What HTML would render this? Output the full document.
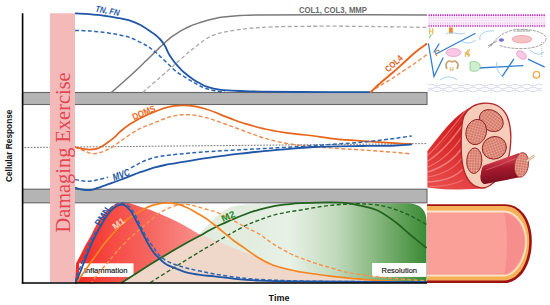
<!DOCTYPE html>
<html><head><meta charset="utf-8">
<style>
html,body{margin:0;padding:0;background:#fff;width:550px;height:305px;overflow:hidden}
svg{display:block}
text{font-family:"Liberation Sans",sans-serif}
</style></head><body>
<svg width="550" height="305" viewBox="0 0 550 305">
<defs>
  <linearGradient id="gGreen" x1="121" y1="0" x2="427" y2="0" gradientUnits="userSpaceOnUse">
    <stop offset="0" stop-color="#e3ebdc"/>
    <stop offset="0.42" stop-color="#e2ede0"/>
    <stop offset="0.55" stop-color="#e7f1e6"/>
    <stop offset="0.7" stop-color="#c2dabd"/>
    <stop offset="0.85" stop-color="#7fb377"/>
    <stop offset="1" stop-color="#3a8a35"/>
  </linearGradient>
  <linearGradient id="gRed" x1="75" y1="0" x2="198" y2="0" gradientUnits="userSpaceOnUse">
    <stop offset="0" stop-color="#f42822"/>
    <stop offset="0.3" stop-color="#f54b44"/>
    <stop offset="0.6" stop-color="#f6655f"/>
    <stop offset="1" stop-color="#f98e8a"/>
  </linearGradient>
</defs>

<!-- bottom panel fills -->
<path d="M121.6,282.8 L198.8,235 C202,231 206,226.5 207.7,225.4 C211,222 214,219 216.6,216.5 C219,214 221.5,212 224.3,210.2 C227,208.5 230,207 233.2,206.4 C238,205.3 241,204.8 245.9,204.5 C252,204 258,203.8 265,203.6 L408,203.3 C419,203.5 426.5,209 426.5,221 L426.5,282.8 Z" fill="url(#gGreen)"/>
<path d="M121.6,282.8 C126.3,279.8 141.1,270.2 150.0,264.6 C158.9,259.1 168.3,253.4 175.0,249.5 C181.7,245.6 185.6,243.4 190.0,241.0 C194.4,238.6 199.5,236.0 201.4,235.0 L257,257.4 L258.5,257.8 C260.9,259.0 267.4,263.0 272.7,265.0 C277.9,267.0 285.3,268.6 290.0,269.8 C294.7,271.0 296.8,271.3 301.0,272.0 C305.2,272.7 310.2,273.3 315.0,274.0 C319.8,274.7 324.0,275.5 330.0,276.2 C336.0,276.9 343.0,277.6 351.0,278.3 C359.0,279.0 365.3,279.9 378.0,280.5 C390.7,281.1 418.8,281.8 427.0,282.0 L427,282.9 Z" fill="#efd7c9"/>
<path d="M75,283 L76.0,263.5 C76.8,262.1 79.1,257.8 80.5,255.0 C81.9,252.2 83.2,249.5 84.5,247.0 C85.8,244.5 87.3,242.1 88.5,240.0 C89.7,237.9 90.3,236.8 91.5,234.5 C92.7,232.2 94.1,229.1 95.5,226.5 C96.9,223.9 98.3,221.4 100.0,219.0 C101.7,216.6 103.4,214.4 105.5,212.2 C107.6,210.0 110.1,207.6 112.6,206.0 C115.1,204.4 118.1,203.2 120.5,202.6 C122.9,202.0 124.6,202.0 127.0,202.4 C129.4,202.8 132.0,204.0 135.0,205.0 C138.0,206.0 142.0,207.3 145.0,208.3 C148.0,209.3 149.5,209.6 153.0,211.0 C156.5,212.4 161.6,214.6 166.0,216.6 C170.4,218.6 174.9,220.5 179.3,222.8 C183.7,225.1 190.2,229.0 192.4,230.2 C195,232 197.5,232.5 197.5,233.5 L201.4,235.0 C199.5,236.0 194.4,238.6 190.0,241.0 C185.6,243.4 181.7,245.6 175.0,249.5 C168.3,253.4 158.9,259.1 150.0,264.6 C141.1,270.2 126.3,279.8 121.6,282.8 Z" fill="url(#gRed)"/>

<!-- bands -->
<rect x="22.5" y="92.5" width="404.5" height="12" fill="#b4b4b4" stroke="#666" stroke-width="1.1"/>
<rect x="22.5" y="189.2" width="404.5" height="13.6" fill="#b4b4b4" stroke="#666" stroke-width="1.1"/>

<!-- top panel lines -->
<path d="M111.3,92.5 C113.6,90.5 120.5,84.5 125.0,80.5 C129.5,76.5 134.9,71.5 138.4,68.2 C141.9,64.9 143.7,63.0 146.0,60.8 C148.3,58.6 150.1,56.9 152.0,55.0 C153.9,53.1 155.6,51.5 157.5,49.7 C159.4,47.9 161.1,46.0 163.3,44.0 C165.5,42.0 168.2,39.4 170.5,37.6 C172.8,35.8 174.8,34.7 177.0,33.3 C179.2,31.9 181.8,30.4 184.0,29.2 C186.2,28.0 187.5,27.4 190.0,26.3 C192.5,25.2 196.2,23.9 199.0,22.9 C201.8,21.9 204.0,21.1 206.7,20.4 C209.4,19.7 212.3,19.1 215.1,18.5 C217.9,17.9 219.3,17.6 223.5,17.1 C227.7,16.6 233.9,16.0 240.0,15.6 C246.1,15.2 245.0,15.0 260.0,14.9 C275.0,14.8 302.2,14.8 330.0,14.8 C357.8,14.8 410.8,15.0 427.0,15.0" fill="none" stroke="#7a7a7a" stroke-width="1.5"/>
<path d="M142.7,92.4 C145.2,90.2 152.4,84.0 158.0,79.2 C163.6,74.4 171.0,67.8 176.0,63.4 C181.0,59.0 185.0,55.4 188.0,52.8 C191.0,50.2 192.0,49.6 194.0,48.0 C196.0,46.4 197.9,45.0 200.0,43.4 C202.1,41.8 204.2,40.0 206.7,38.5 C209.2,37.0 212.3,35.6 215.1,34.6 C217.9,33.6 219.3,33.1 223.5,32.2 C227.7,31.4 233.9,30.3 240.0,29.5 C246.1,28.7 251.7,28.0 260.0,27.5 C268.3,27.0 278.3,26.7 290.0,26.5 C301.7,26.3 315.0,26.2 330.0,26.2 C345.0,26.2 363.8,26.4 380.0,26.6 C396.2,26.8 419.2,27.3 427.0,27.4" fill="none" stroke="#a9a9a9" stroke-width="1.3" stroke-dasharray="4,2.4"/>
<path d="M75.0,30.4 C77.3,30.5 84.3,30.6 89.0,30.9 C93.7,31.2 98.3,31.7 103.0,32.3 C107.7,32.9 112.5,33.6 117.0,34.5 C121.5,35.4 126.2,36.2 130.0,37.5 C133.8,38.8 137.2,40.8 140.0,42.2 C142.8,43.6 145.0,44.6 147.0,45.8 C149.0,47.0 150.2,48.1 152.0,49.5 C153.8,50.9 156.0,52.6 158.0,54.4 C160.0,56.1 162.0,58.1 164.0,60.0 C166.0,61.9 168.0,63.9 170.0,65.8 C172.0,67.7 174.0,69.8 176.0,71.4 C178.0,73.0 180.0,74.0 182.0,75.3 C184.0,76.6 186.0,77.8 188.0,79.0 C190.0,80.2 192.0,81.4 194.0,82.6 C196.0,83.8 197.9,85.0 200.0,86.0 C202.1,87.0 204.2,87.9 206.7,88.7 C209.2,89.5 212.0,90.2 215.1,90.8 C218.2,91.3 223.3,91.8 225.0,92.0" fill="none" stroke="#2d66b4" stroke-width="1.5" stroke-dasharray="4,2.4"/>
<path d="M75.0,13.3 C77.3,13.5 84.3,13.8 89.0,14.2 C93.7,14.6 98.3,15.0 103.0,15.6 C107.7,16.2 112.4,16.9 117.0,17.8 C121.6,18.7 126.7,19.6 130.7,20.8 C134.7,22.0 138.1,23.7 141.0,25.2 C143.9,26.7 145.7,28.2 148.0,29.8 C150.3,31.4 152.9,33.0 154.9,34.5 C156.9,36.0 158.4,37.6 159.8,39.0 C161.2,40.4 162.2,41.8 163.1,43.0 C164.0,44.2 164.5,44.9 165.2,46.2 C165.9,47.5 166.5,49.1 167.2,50.6 C167.9,52.1 168.6,53.6 169.6,55.2 C170.6,56.9 172.0,58.8 173.2,60.5 C174.4,62.2 175.7,63.7 177.0,65.2 C178.3,66.7 179.6,68.0 180.8,69.3 C182.1,70.6 183.2,71.7 184.5,72.8 C185.8,73.9 187.1,74.9 188.5,76.0 C189.9,77.1 191.2,78.1 193.0,79.2 C194.8,80.3 196.7,81.5 199.0,82.8 C201.3,84.0 204.0,85.7 206.7,86.7 C209.4,87.7 212.3,88.3 215.1,88.9 C217.9,89.5 219.3,89.8 223.5,90.1 C227.7,90.4 233.9,90.8 240.0,91.0 C246.1,91.2 250.0,91.4 260.0,91.6 C270.0,91.8 281.7,91.9 300.0,92.0 C318.3,92.1 358.3,92.2 370.0,92.2" fill="none" stroke="#1f56a6" stroke-width="1.8"/>
<path d="M370.0,92.3 C371.9,91.0 377.9,87.1 381.6,84.8 C385.3,82.5 388.3,80.9 392.0,78.5 C395.7,76.1 400.2,73.0 404.0,70.5 C407.8,68.0 411.2,65.9 415.0,63.2 C418.8,60.5 425.0,56.0 427.0,54.5" fill="none" stroke="#f0884a" stroke-width="1.4" stroke-dasharray="4,2.4"/>
<path d="M370.5,92.3 C371.9,91.0 375.4,87.5 379.0,84.3 C382.6,81.1 388.1,76.6 392.3,73.0 C396.5,69.4 400.2,65.9 404.0,62.5 C407.8,59.1 411.2,55.7 415.0,52.5 C418.8,49.3 425.0,45.0 427.0,43.5" fill="none" stroke="#e8641a" stroke-width="1.9"/>

<!-- middle panel lines -->
<path d="M24.5,147.5 L427,143.6" stroke="#7a7a7a" stroke-width="1" stroke-dasharray="1.8,1.3" fill="none"/>
<path d="M75.0,147.0 C75.8,147.4 78.3,148.6 79.9,149.3 C81.5,150.0 83.2,150.5 84.8,151.1 C86.4,151.7 88.0,152.7 89.7,153.1 C91.4,153.5 93.1,153.7 94.7,153.6 C96.3,153.5 98.0,153.0 99.6,152.6 C101.2,152.2 102.9,151.8 104.5,151.1 C106.1,150.4 107.7,149.7 109.4,148.7 C111.2,147.7 112.8,146.7 115.0,145.2 C117.2,143.7 119.5,141.8 122.8,139.5 C126.1,137.2 131.2,133.7 134.6,131.6 C138.0,129.5 140.3,128.4 143.0,127.2 C145.7,126.0 147.7,125.5 150.5,124.4 C153.3,123.3 156.9,121.7 159.7,120.6 C162.5,119.5 164.6,118.5 167.1,117.7 C169.6,116.9 172.0,116.4 174.5,115.9 C177.0,115.4 179.5,115.0 181.9,114.8 C184.3,114.6 186.8,114.6 189.2,114.7 C191.6,114.8 194.0,115.0 196.6,115.5 C199.2,116.0 201.9,116.6 205.0,117.4 C208.1,118.2 210.9,119.0 215.0,120.4 C219.1,121.8 224.6,123.8 229.5,125.6 C234.4,127.4 239.6,129.3 244.2,131.0 C248.8,132.7 252.7,134.2 257.0,135.7 C261.3,137.2 265.4,138.6 270.0,139.8 C274.6,141.0 279.6,142.1 284.5,143.0 C289.4,143.9 294.4,144.7 299.3,145.3 C304.2,145.9 308.9,146.3 314.0,146.7 C319.1,147.1 324.7,147.5 330.0,147.9 C335.3,148.3 340.6,148.7 346.0,149.0 C351.4,149.3 357.2,149.6 362.7,150.0 C368.2,150.4 373.5,150.8 379.0,151.2 C384.5,151.6 390.0,151.9 395.5,152.4 C401.0,152.9 409.1,153.7 411.8,153.9" fill="none" stroke="#f0884a" stroke-width="1.4" stroke-dasharray="4,2.4"/>
<path d="M75.0,147.0 C75.8,147.2 78.3,147.8 79.9,148.2 C81.5,148.6 83.2,149.0 84.8,149.2 C86.4,149.4 88.0,149.6 89.7,149.6 C91.4,149.6 93.1,149.5 94.7,149.2 C96.3,148.9 98.0,148.4 99.6,147.7 C101.2,146.9 102.9,145.8 104.5,144.7 C106.1,143.6 107.7,142.6 109.4,141.3 C111.2,140.0 113.3,138.5 115.0,136.9 C116.7,135.3 117.3,134.1 119.8,132.0 C122.2,129.9 126.4,126.5 129.7,124.3 C133.0,122.1 136.8,120.1 139.5,118.6 C142.2,117.1 143.8,116.5 146.0,115.5 C148.2,114.5 150.1,113.6 152.4,112.6 C154.7,111.6 157.2,110.6 159.7,109.7 C162.1,108.8 164.6,108.0 167.1,107.4 C169.6,106.8 172.0,106.2 174.5,105.9 C177.0,105.6 179.5,105.5 181.9,105.5 C184.3,105.5 186.8,105.4 189.2,105.6 C191.6,105.8 194.0,106.1 196.6,106.6 C199.2,107.1 201.9,107.8 205.0,108.8 C208.1,109.8 211.7,111.0 215.0,112.3 C218.3,113.6 221.7,115.1 225.0,116.4 C228.3,117.7 231.7,119.0 235.0,120.2 C238.3,121.4 241.7,122.5 245.0,123.6 C248.3,124.6 251.7,125.6 255.0,126.5 C258.3,127.4 261.7,128.2 265.0,129.0 C268.3,129.8 271.7,130.4 275.0,131.0 C278.3,131.6 280.9,132.0 285.0,132.6 C289.1,133.2 294.5,133.7 299.3,134.3 C304.1,134.9 308.9,135.3 314.0,136.0 C319.1,136.7 324.6,137.7 330.0,138.3 C335.4,139.0 340.9,139.4 346.4,139.9 C351.8,140.4 357.3,140.7 362.7,141.1 C368.1,141.5 373.5,141.8 379.0,142.2 C384.5,142.5 390.0,142.9 395.5,143.2 C401.0,143.5 409.1,144.0 411.8,144.2" fill="none" stroke="#e8641a" stroke-width="1.7"/>
<path d="M75.0,179.5 C76.2,179.7 79.7,180.5 82.0,180.8 C84.3,181.1 86.8,181.4 89.0,181.3 C91.2,181.2 93.0,180.8 95.0,180.4 C97.0,180.0 98.8,179.5 101.0,179.0 C103.2,178.5 106.8,177.5 108.0,177.2" fill="none" stroke="#2d66b4" stroke-width="1.5" stroke-dasharray="4,2.4"/>
<path d="M131.0,167.9 C131.8,167.4 134.3,166.0 136.0,165.1 C137.7,164.2 139.1,163.3 141.0,162.4 C142.9,161.5 145.1,160.5 147.4,159.7 C149.7,158.9 152.2,158.1 154.7,157.5 C157.1,156.9 159.5,156.5 162.1,156.1 C164.7,155.7 167.0,155.3 170.0,155.0 C173.0,154.7 176.7,154.3 180.0,154.0 C183.3,153.7 186.7,153.3 190.0,153.0 C193.3,152.7 196.3,152.5 200.0,152.2 C203.7,151.9 207.8,151.7 212.0,151.4 C216.2,151.1 220.3,150.9 225.0,150.6 C229.7,150.3 235.0,150.1 240.0,149.8 C245.0,149.5 250.0,149.3 255.0,149.0 C260.0,148.7 265.1,148.5 270.0,148.2 C274.9,147.9 279.6,147.7 284.5,147.4 C289.4,147.1 294.4,146.8 299.3,146.5 C304.2,146.2 308.9,145.9 314.0,145.6 C319.1,145.3 324.7,144.9 330.0,144.5 C335.3,144.1 340.6,143.8 346.0,143.4 C351.4,143.0 357.0,142.6 362.7,142.1 C368.4,141.6 374.5,140.9 380.0,140.3 C385.5,139.7 390.2,139.0 395.5,138.3 C400.8,137.6 409.1,136.3 411.8,135.9" fill="none" stroke="#2d66b4" stroke-width="1.5" stroke-dasharray="4,2.4"/>
<path d="M75.0,187.7 C76.2,188.0 79.5,189.1 82.0,189.5 C84.5,189.9 87.6,190.1 89.8,190.0 C92.0,189.9 92.5,189.6 95.0,188.9 C97.5,188.2 101.7,186.6 104.5,185.6 C107.3,184.6 109.4,183.8 112.0,182.9 C114.6,182.0 117.3,181.0 120.0,180.0 C122.7,179.0 125.5,177.8 128.0,176.8 C130.5,175.8 132.8,174.9 135.0,174.1 C137.2,173.3 138.9,172.6 141.0,171.9 C143.1,171.2 145.1,170.7 147.4,169.9 C149.7,169.2 152.1,168.2 155.0,167.4 C157.9,166.6 161.7,165.7 165.0,165.0 C168.3,164.3 171.7,163.9 175.0,163.3 C178.3,162.7 181.7,162.2 185.0,161.6 C188.3,161.0 190.8,160.6 195.0,159.9 C199.2,159.2 205.0,158.3 210.0,157.6 C215.0,156.9 220.0,156.2 225.0,155.6 C230.0,154.9 235.0,154.3 240.0,153.7 C245.0,153.1 250.0,152.5 255.0,152.0 C260.0,151.5 265.1,151.0 270.0,150.6 C274.9,150.2 279.6,149.7 284.5,149.3 C289.4,148.9 294.4,148.4 299.3,148.0 C304.2,147.6 308.1,147.3 314.0,147.0 C319.9,146.7 326.9,146.5 335.0,146.3 C343.1,146.1 352.6,146.1 362.7,146.0 C372.8,145.9 387.3,145.8 395.5,145.5 C403.7,145.2 409.1,144.6 411.8,144.4" fill="none" stroke="#1f56a6" stroke-width="1.8"/>

<!-- inflammation / resolution boxes -->
<rect x="79.1" y="263.3" width="54.4" height="13.6" fill="#fff"/>
<text x="83.9" y="273.1" font-size="8" fill="#111" stroke="#111" stroke-width="0.15" textLength="43.7" lengthAdjust="spacingAndGlyphs">Inflammation</text>
<rect x="372.1" y="263" width="54.1" height="13.9" fill="#fff"/>
<text x="381.5" y="272.8" font-size="8" fill="#111" stroke="#111" stroke-width="0.15" textLength="35.5" lengthAdjust="spacingAndGlyphs">Resolution</text>
<!-- bottom panel lines -->
<path d="M150.4,282.5 C154.5,279.9 166.7,272.2 175.0,267.0 C183.3,261.8 194.2,255.1 200.0,251.5 C205.8,247.9 205.1,248.5 210.0,245.7 C214.9,242.8 223.4,237.8 229.4,234.4 C235.4,231.0 241.1,227.8 245.9,225.4 C250.8,223.1 254.0,222.0 258.5,220.3 C263.0,218.6 267.9,216.8 272.7,215.4 C277.4,214.1 282.3,213.1 287.0,212.2 C291.7,211.3 296.3,210.8 301.0,210.0 C305.7,209.2 310.2,208.3 315.0,207.5 C319.8,206.7 325.0,206.0 330.0,205.4 C335.0,204.8 340.0,204.5 345.0,204.2 C350.0,203.9 354.6,203.7 360.0,203.8 C365.4,203.9 371.8,204.1 377.7,205.0 C383.6,205.9 390.0,207.7 395.4,209.5 C400.8,211.3 404.8,213.1 410.0,215.6 C415.2,218.1 423.8,223.0 426.5,224.5" fill="none" stroke="#23631f" stroke-width="1.4" stroke-dasharray="4,2.4"/>
<path d="M121.6,282.8 C126.3,279.8 141.1,270.2 150.0,264.6 C158.9,259.1 168.3,253.4 175.0,249.5 C181.7,245.6 185.6,243.4 190.0,241.0 C194.4,238.6 198.1,236.8 201.4,235.0 C204.7,233.2 206.8,231.7 210.0,230.0 C213.2,228.3 216.5,226.6 220.4,224.8 C224.3,223.0 228.9,220.9 233.2,219.1 C237.4,217.3 241.7,215.6 245.9,214.0 C250.1,212.4 254.0,211.1 258.5,209.8 C263.0,208.5 267.9,207.2 272.7,206.3 C277.4,205.4 282.3,204.9 287.0,204.4 C291.7,203.9 293.8,203.5 301.0,203.2 C308.2,202.9 322.7,202.4 330.0,202.4 C337.3,202.4 340.0,202.4 345.0,202.9 C350.0,203.4 354.6,204.2 360.0,205.5 C365.4,206.8 371.8,207.8 377.7,210.5 C383.6,213.2 390.0,218.0 395.4,222.0 C400.8,226.0 404.8,230.2 410.0,234.5 C415.2,238.8 423.8,245.8 426.5,248.0" fill="none" stroke="#23631f" stroke-width="1.8"/>
<path d="M90.2,284.2 C91.8,282.1 96.8,275.4 100.0,271.5 C103.2,267.6 106.7,263.7 109.4,260.5 C112.1,257.3 114.2,254.6 116.0,252.5 C117.8,250.4 117.7,250.4 120.0,248.0 C122.3,245.6 126.5,241.1 129.8,238.0 C133.1,234.9 136.4,232.3 139.7,229.5 C143.0,226.7 146.1,223.8 149.5,221.0 C152.9,218.2 156.6,215.0 160.0,212.8 C163.4,210.6 166.7,209.0 170.0,207.6 C173.3,206.2 176.7,205.1 180.0,204.6 C183.3,204.1 186.7,204.3 190.0,204.8 C193.3,205.3 196.7,206.5 200.0,207.4 C203.3,208.3 207.2,209.5 210.0,210.3 C212.8,211.1 213.1,210.6 217.0,212.3 C220.9,214.0 228.4,217.9 233.2,220.4 C238.0,222.9 241.7,225.2 245.9,227.4 C250.1,229.6 254.0,230.9 258.5,233.6 C263.0,236.3 267.4,240.3 272.7,243.6 C277.9,246.9 285.3,251.1 290.0,253.5 C294.7,255.9 296.8,256.4 301.0,258.0 C305.2,259.6 310.2,261.6 315.0,263.2 C319.8,264.8 325.2,266.1 330.0,267.5 C334.8,268.9 338.8,270.4 343.8,271.6 C348.8,272.8 354.2,273.7 360.0,274.6 C365.8,275.5 372.6,276.4 378.4,277.0 C384.2,277.6 389.2,278.0 395.0,278.5 C400.8,279.0 407.7,279.6 413.0,280.0 C418.3,280.4 424.7,280.8 427.0,281.0" fill="none" stroke="#f7934a" stroke-width="1.4" stroke-dasharray="4,2.4"/>
<path d="M75.5,284.0 C77.8,280.8 84.4,271.5 89.0,265.0 C93.6,258.5 99.5,250.1 103.3,245.0 C107.1,239.9 109.3,237.7 112.1,234.5 C114.9,231.3 117.4,228.3 120.0,225.8 C122.6,223.3 125.0,221.2 127.5,219.3 C130.0,217.4 132.4,216.1 135.0,214.5 C137.6,212.9 140.5,211.1 143.2,209.6 C145.9,208.1 148.7,206.6 151.4,205.6 C154.1,204.6 157.2,204.0 159.6,203.6 C162.0,203.2 163.9,203.1 166.0,203.0 C168.1,202.9 169.8,202.8 172.1,203.1 C174.3,203.4 177.0,203.9 179.5,204.6 C182.0,205.3 184.5,206.3 186.9,207.4 C189.3,208.5 191.8,210.0 194.2,211.4 C196.6,212.8 199.1,214.3 201.6,215.8 C204.1,217.3 206.5,218.8 209.0,220.6 C211.5,222.4 213.5,224.1 216.5,226.5 C219.5,228.9 224.0,232.7 226.8,235.0 C229.7,237.3 230.7,238.3 233.6,240.5 C236.5,242.7 240.0,245.0 244.2,247.9 C248.3,250.8 253.8,255.0 258.5,257.8 C263.2,260.7 267.4,263.0 272.7,265.0 C277.9,267.0 285.3,268.6 290.0,269.8 C294.7,271.0 296.8,271.3 301.0,272.0 C305.2,272.7 310.2,273.3 315.0,274.0 C319.8,274.7 324.0,275.5 330.0,276.2 C336.0,276.9 343.0,277.6 351.0,278.3 C359.0,279.0 365.3,279.9 378.0,280.5 C390.7,281.1 418.8,281.8 427.0,282.0" fill="none" stroke="#f7841f" stroke-width="1.7"/>
<path d="M74.5,282.0 C75.1,280.5 76.8,276.0 78.0,273.0 C79.2,270.0 80.4,266.8 81.5,264.0 C82.6,261.2 83.5,259.0 84.5,256.5 C85.5,254.0 86.5,251.3 87.5,249.0 C88.5,246.7 89.3,244.5 90.2,242.5 C91.1,240.5 91.9,238.8 92.8,237.0 C93.7,235.2 95.0,232.4 95.5,231.5" fill="none" stroke="#2d66b4" stroke-width="1.5" stroke-dasharray="4,2.4"/>
<path d="M110.0,209.0 C110.8,208.3 113.0,205.9 114.5,205.0 C116.0,204.1 117.6,203.6 119.0,203.3 C120.4,203.0 121.5,202.9 123.0,203.3 C124.5,203.7 126.5,204.4 128.0,205.5 C129.5,206.6 130.8,208.5 132.0,210.0 C133.2,211.5 133.9,212.7 135.0,214.6 C136.1,216.5 137.2,219.0 138.3,221.3 C139.4,223.6 140.6,226.0 141.8,228.3 C143.0,230.6 144.1,232.8 145.3,235.0 C146.5,237.2 147.7,239.4 149.0,241.3 C150.3,243.2 151.3,244.2 153.0,246.5 C154.7,248.8 156.9,252.8 159.2,255.2 C161.4,257.6 163.6,259.1 166.5,260.8 C169.4,262.5 173.5,264.0 176.9,265.2 C180.3,266.4 183.3,267.2 187.2,268.2 C191.0,269.2 195.4,270.1 200.0,271.1 C204.6,272.1 208.2,272.9 214.5,274.0 C220.8,275.1 229.9,276.6 237.5,277.5 C245.1,278.4 249.6,278.9 260.0,279.5 C270.4,280.1 283.3,280.6 300.0,281.0 C316.7,281.4 338.8,281.5 360.0,281.6 C381.2,281.7 415.8,281.8 427.0,281.8" fill="none" stroke="#2d66b4" stroke-width="1.5" stroke-dasharray="4,2.4"/>
<path d="M75.5,283.0 C76.2,281.5 78.2,277.0 79.5,274.0 C80.8,271.0 81.9,267.8 83.0,265.0 C84.1,262.2 85.0,260.0 86.0,257.5 C87.0,255.0 88.0,252.3 89.0,250.0 C90.0,247.7 90.8,245.5 91.7,243.5 C92.6,241.5 93.4,239.8 94.3,238.0 C95.2,236.2 96.1,234.2 97.0,232.5 C97.9,230.8 98.8,229.3 99.8,227.5 C100.8,225.7 102.1,223.5 103.3,221.5 C104.5,219.5 105.8,217.4 107.2,215.5 C108.6,213.6 110.0,211.7 111.5,210.2 C113.0,208.7 114.4,207.4 116.0,206.5 C117.6,205.6 119.6,204.8 121.0,204.6 C122.4,204.4 123.4,204.7 124.5,205.2 C125.6,205.7 126.4,206.4 127.4,207.4 C128.4,208.4 129.7,209.7 130.7,211.0 C131.7,212.3 132.3,213.8 133.3,215.5 C134.3,217.2 135.5,219.4 136.6,221.5 C137.7,223.6 138.8,225.9 140.0,228.2 C141.2,230.4 142.3,232.6 143.5,235.0 C144.7,237.4 145.8,239.7 147.4,242.5 C149.0,245.3 151.3,249.3 153.3,252.0 C155.3,254.7 157.0,256.3 159.2,258.4 C161.4,260.5 163.6,262.8 166.5,264.5 C169.4,266.2 173.5,267.5 176.9,268.9 C180.3,270.2 183.3,271.6 187.2,272.6 C191.0,273.6 195.4,274.2 200.0,274.8 C204.6,275.4 208.2,275.7 214.5,276.4 C220.8,277.1 229.9,278.5 237.5,279.2 C245.1,279.9 249.6,280.2 260.0,280.6 C270.4,281.0 283.3,281.2 300.0,281.4 C316.7,281.6 338.8,281.7 360.0,281.8 C381.2,281.9 415.8,282.0 427.0,282.0" fill="none" stroke="#1f56a6" stroke-width="1.8"/>

<!-- curve labels -->
<g font-family="Liberation Sans" style="font-family:'Liberation Sans',sans-serif">
<text transform="translate(94.9,11.6) rotate(10)" font-size="8.8" font-weight="bold" font-style="italic" fill="#1f56a6" textLength="24.5" lengthAdjust="spacingAndGlyphs">TN, FN</text>
<text transform="translate(134,120.3) rotate(-23)" font-size="9.3" font-weight="bold" fill="#ec6a1c" textLength="24" lengthAdjust="spacingAndGlyphs">DOMS</text>
<text transform="translate(114,181) rotate(-20)" font-size="10.2" font-weight="bold" font-style="italic" fill="#1f56a6" textLength="17.6" lengthAdjust="spacingAndGlyphs">MVC</text>
<text transform="translate(388.3,72.8) rotate(-43)" font-size="8.6" font-weight="bold" fill="#e2601a" textLength="20.5" lengthAdjust="spacingAndGlyphs">COL4</text>
<text transform="translate(99.3,226.5) rotate(-57)" font-size="8.8" font-weight="bold" fill="#1f56a6" textLength="20" lengthAdjust="spacingAndGlyphs">PMN</text>
<text transform="translate(115.2,230) rotate(-37)" font-size="9" font-weight="bold" fill="#fcd8c0" textLength="13" lengthAdjust="spacingAndGlyphs">M1</text>
<text transform="translate(223,222) rotate(-24)" font-size="9.2" font-weight="bold" fill="#2a8a2a" textLength="14" lengthAdjust="spacingAndGlyphs">M2</text>
</g>

<!-- pink exercise bar -->
<rect x="50" y="13.3" width="25" height="269" fill="#f4b9b9"/>
<text transform="translate(69.5,232.6) rotate(-90)" font-family="Liberation Serif" font-size="20.4" fill="#e24652" style="font-family:'Liberation Serif',serif">Damaging Exercise</text>

<!-- axes -->
<line x1="22.6" y1="13.3" x2="22.6" y2="283.6" stroke="#000" stroke-width="1.6"/>
<line x1="21.7" y1="282.9" x2="427" y2="282.9" stroke="#000" stroke-width="1.5"/>

<!-- labels -->
<text transform="translate(12.4,182) rotate(-90)" font-size="9" font-weight="bold" fill="#111" textLength="72.5" lengthAdjust="spacingAndGlyphs">Cellular Response</text>
<text x="268.6" y="300.6" font-size="9" font-weight="bold" fill="#111" textLength="20.8" lengthAdjust="spacingAndGlyphs">Time</text>
<text x="299" y="12.8" font-size="8.3" font-weight="bold" fill="#6a6a6a" textLength="68" lengthAdjust="spacingAndGlyphs">COL1, COL3, MMP</text>

<!-- ===== right images ===== -->
<!-- muscle fibre (bottom) -->
<g>
  <path d="M427,204.3 L505,204.3 C521,204.3 531.8,220 531.8,241 C531.8,264 521,283 504,283 L427,283 Z" fill="#9e1212"/>
  <path d="M427,206 L505,206 C519,206 529.2,221 529.2,241 C529.2,262 519,280.5 504,280.5 L427,280.5 Z" fill="#f5b058"/>
  <path d="M427,210.5 L504,210.5 C516,210.5 527,224 527,241 C527,259 516,276.5 504,276.5 L427,276.5 Z" fill="#fde4c8"/>
  <path d="M427,212.5 L504,212.5 C515,212.5 525.3,225 525.3,241 C525.3,258 515,274.8 504,274.8 L427,274.8 Z" fill="#fb9f99"/>
  <path d="M504,213 C514,214 524.5,226 524.5,241 C524.5,257 514,273 504,274.3 C508,262 508,225 504,213 Z" fill="#f4888a" opacity="0.75"/>
</g>

<!-- muscle bundle (middle) -->
<defs>
  <pattern id="cells" width="2.6" height="2.6" patternUnits="userSpaceOnUse">
    <rect width="2.6" height="2.6" fill="#c9675a"/>
    <circle cx="1.3" cy="1.3" r="1.05" fill="#eeaa98"/>
  </pattern>
  <linearGradient id="gBundle" x1="440" y1="185" x2="468" y2="110" gradientUnits="userSpaceOnUse">
    <stop offset="0" stop-color="#e84a4a"/>
    <stop offset="0.45" stop-color="#dd2e2e"/>
    <stop offset="1" stop-color="#c91a1c"/>
  </linearGradient>
  <linearGradient id="gFib" x1="0" y1="0" x2="0.15" y2="1">
    <stop offset="0" stop-color="#b82236"/>
    <stop offset="0.3" stop-color="#cf3a4c"/>
    <stop offset="0.55" stop-color="#a51a2e"/>
    <stop offset="1" stop-color="#7c0e1e"/>
  </linearGradient>
</defs>
<g>
  <path d="M427.4,151 C434,143 444,129 454.4,119 C460,113.5 466,109.5 472,106.5 C477,104.5 481,103.5 486,103.2 L486,188.6 C470,189.5 450,190.5 427.4,187.4 Z" fill="url(#gBundle)"/>
  <g fill="none" stroke-linecap="round">
    <path d="M428,155 C440,144 452,128 466,110" stroke="#f39494" stroke-width="1.2" opacity="0.6"/>
    <path d="M428,161 C442,152 454,138 466,120" stroke="#f7a8a8" stroke-width="1.4" opacity="0.6"/>
    <path d="M428,167 C444,160 455,148 464,134" stroke="#f39494" stroke-width="1.1" opacity="0.7"/>
    <path d="M428,172 C446,166 456,158 463,146" stroke="#f8b0b0" stroke-width="1.6" opacity="0.55"/>
    <path d="M428,177 C445,174 455,168 462,158" stroke="#f39494" stroke-width="1.2" opacity="0.6"/>
    <path d="M428,182 C445,181 455,177 462,170" stroke="#f8b0b0" stroke-width="1.4" opacity="0.55"/>
    <path d="M430,186.5 C445,186.5 455,184 463,180" stroke="#f39494" stroke-width="1" opacity="0.6"/>
    <path d="M436,150 C446,140 455,128 463,118" stroke="#e86868" stroke-width="0.8" opacity="0.6"/>
  </g>
  <path d="M464,116 C468,108 476,103.5 485,103.2 C495,103 503,108 507,116 C511,125 511.5,138 510,150 C508,165 500,178 490,185.5 C484,189.5 476,188.5 470,182 C464,175 461.5,162 461.3,150 C461,138 461,124 464,116 Z" fill="#f5cdb9" stroke="#b3262a" stroke-width="1.3"/>
  <ellipse cx="491.3" cy="120.6" rx="12.8" ry="10" transform="rotate(35 491.3 120.6)" fill="url(#cells)" stroke="#8e1f22" stroke-width="0.9"/>
  <ellipse cx="476.2" cy="132" rx="10.2" ry="12.8" transform="rotate(15 476.2 132)" fill="url(#cells)" stroke="#8e1f22" stroke-width="0.9"/>
  <ellipse cx="494.3" cy="147.8" rx="12.2" ry="11.2" transform="rotate(-20 494.3 147.8)" fill="url(#cells)" stroke="#8e1f22" stroke-width="0.9"/>
  <ellipse cx="474.3" cy="160.7" rx="7.6" ry="12.8" transform="rotate(3 474.3 160.7)" fill="url(#cells)" stroke="#8e1f22" stroke-width="0.9"/>
  <!-- fibre cylinder -->
  <path d="M483.8,165.6 L519.2,153.1 L521,177 L485.3,184.1 C481,184 479.5,178 480.9,173.5 C481.5,169.5 482,167 483.8,165.6 Z" fill="url(#gFib)"/>
  <path d="M486,170 C498,166 508,161.5 517,158" stroke="#e2707c" stroke-width="1.3" fill="none" opacity="0.55"/>
  <ellipse cx="521.5" cy="164.9" rx="7" ry="12.4" transform="rotate(8 521.5 164.9)" fill="url(#cells)" stroke="#a4302e" stroke-width="0.8"/>
  <path d="M527,161 L533.5,156.3" stroke="#c9a684" stroke-width="2.4" stroke-linecap="round"/>
  <path d="M527,161 L533.5,156.3" stroke="#f0dcc0" stroke-width="1.1" stroke-linecap="round"/>
</g>

<!-- ECM diagram (top) -->
<g>
  <rect x="428" y="15" width="118" height="11.5" fill="#fbf1fb"/>
  <line x1="428.5" y1="17.8" x2="545.5" y2="17.8" stroke="#f2cdf2" stroke-width="2.6" stroke-dasharray="1.2,1.1"/>
  <line x1="428.5" y1="23.4" x2="545.5" y2="23.4" stroke="#f2cdf2" stroke-width="2.6" stroke-dasharray="1.2,1.1"/>
  <line x1="428" y1="20.6" x2="546" y2="20.6" stroke="#f0d4f0" stroke-width="0.6"/>
  <line x1="428.5" y1="15.2" x2="545.5" y2="15.2" stroke="#b82cb8" stroke-width="1.7" stroke-dasharray="1.3,1"/>
  <line x1="428.5" y1="26" x2="545.5" y2="26" stroke="#b82cb8" stroke-width="1.7" stroke-dasharray="1.3,1"/>
  <rect x="429" y="28" width="1.3" height="6.5" fill="#e8c070"/><rect x="432" y="28" width="1.3" height="6.5" fill="#e8c070"/><rect x="429" y="30.7" width="4.3" height="1" fill="#e8c070"/>
  <path d="M429,38 L431.5,34.5" stroke="#7fcf60" stroke-width="1.2"/>
  <rect x="449" y="27.5" width="3.8" height="6" fill="#f08a2a"/>
  <g fill="none" stroke="#2e7fd0" stroke-width="1.3" stroke-linecap="round">
    <path d="M436,54 L475,33.5"/>
    <path d="M428.5,44 L434,76.5 L443,58"/>
    <path d="M434,52 L439,44"/>
    <path d="M478,68 L522.7,65.7"/>
    <path d="M502.3,76.4 L513.6,59.3"/>
    <path d="M528.4,59.3 L544.3,66.8"/>
  </g>
  <g fill="none" stroke="#8ec4ea" stroke-width="0.8">
    <path d="M446,34 C452,30 458,36 465,33"/>
    <path d="M480,40 C478,34 486,30 494,31"/>
    <path d="M440,80 C445,76 452,76 457,80"/>
    <path d="M497,62 C495,70 500,74 504,78"/>
    <path d="M530,50 C535,55 540,55 544,52"/>
    <path d="M460,40 C465,44 470,44 476,40"/>
  </g>
  <path d="M491,46.5 C496,36 508,29.5 520,29.3 C534,29.2 546,33 546,38.5 C546,44 536,48.5 522,48.6 C510,48.6 503,47 499,45" fill="none" stroke="#8a8a8a" stroke-width="0.8" stroke-dasharray="3,1"/>
  <path d="M541.8,42 L541.8,58" stroke="#9a9a9a" stroke-width="0.6" stroke-dasharray="1,1"/>
  <text x="514" y="31.5" font-size="2.8" fill="#777">Z-disk/M-line</text>
  <path d="M488.5,47.5 L492,44" stroke="#8a8a8a" stroke-width="0.7"/>
  <ellipse cx="522" cy="39.2" rx="9.8" ry="3.8" fill="#f7c2c4" stroke="#e08c94" stroke-width="0.6"/>
  <ellipse cx="501.4" cy="40" rx="2.6" ry="1.8" fill="#6c6ce0"/>
  <path d="M488,46 L497,41" stroke="#777" stroke-width="0.7"/>
  <ellipse cx="453.5" cy="52.5" rx="7.5" ry="4" fill="#f8c8e4" stroke="#d98ac0" stroke-width="0.6"/>
  <ellipse cx="521.5" cy="55" rx="5.5" ry="3.5" transform="rotate(35 521.5 55)" fill="#f8c8e4" stroke="#d98ac0" stroke-width="0.6"/>
  <path d="M470,55 C464,54 468,50 470,50" stroke="#e1c27a" stroke-width="2" fill="none"/>
  <text x="464.5" y="57" font-size="7" font-weight="bold" fill="#e1b85a">H</text>
  <path d="M447,69 C444,62 449,60 452,62 M457,69 C460,62 455,60 452,62" stroke="#c8a678" stroke-width="1.8" fill="none"/>
  <text x="449.5" y="71" font-size="6" font-weight="bold" fill="#d8b060">H</text>
  <path d="M437,56 C433,52 438,48 440,52" stroke="#b89878" stroke-width="1.2" fill="none"/>
  <path d="M470,62 C478,60 481,64 480,68 C479,72 472,72 470,70 Z" fill="#cfeecf" stroke="#7fc47f" stroke-width="0.7"/>
  <circle cx="536.5" cy="74.8" r="3.3" fill="none" stroke="#f59a30" stroke-width="1.1"/>
  <g fill="none" stroke="#c8c8e6" stroke-width="0.7">
    <path d="M428,85 q3,-2 6,0 t6,0 t6,0 t6,0 t6,0 t6,0 t6,0 t6,0 t6,0 t6,0 t6,0 t6,0 t6,0 t6,0 t6,0 t6,0 t6,0 t6,0 t6,0"/>
    <path d="M428,88 q3,2 6,0 t6,0 t6,0 t6,0 t6,0 t6,0 t6,0 t6,0 t6,0 t6,0 t6,0 t6,0 t6,0 t6,0 t6,0 t6,0 t6,0 t6,0 t6,0"/>
    <path d="M428,91 q3,-2 6,0 t6,0 t6,0 t6,0 t6,0 t6,0 t6,0 t6,0 t6,0 t6,0 t6,0 t6,0 t6,0 t6,0 t6,0 t6,0 t6,0 t6,0 t6,0"/>
  </g>
  
</g>

</svg>
</body></html>
